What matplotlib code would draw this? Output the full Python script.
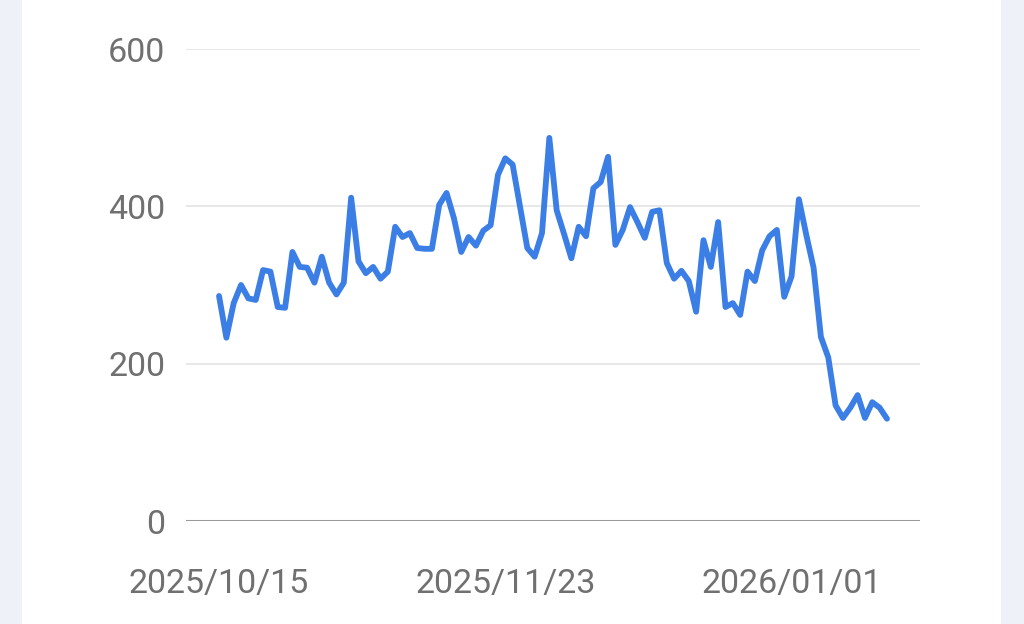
import matplotlib
matplotlib.use("Agg")
import matplotlib.pyplot as plt
from matplotlib.patches import Rectangle
import datetime as dt

start_date = "2025-10-15"
values = [286, 233, 277, 300, 283, 281, 319, 317, 272, 271,
          342, 323, 322, 303, 336, 303, 288, 303, 411, 330,
          315, 323, 308, 317, 374, 361, 366, 347, 346, 346,
          402, 417, 385, 342, 361, 350, 369, 376, 440, 461,
          453, 400, 347, 336, 366, 487, 395, 365, 334, 374,
          362, 423, 431, 463, 351, 370, 399, 380, 360, 393,
          395, 328, 308, 318, 305, 266, 357, 323, 380, 272,
          277, 262, 317, 305, 344, 362, 370, 285, 311, 409,
          364, 322, 234, 208, 147, 131, 144, 160, 131, 151,
          144, 130]
tick_dates = ["2025-10-15", "2025-11-23", "2026-01-01"]
tick_labels = ["2025/10/15", "2025/11/23", "2026/01/01"]
y_ticks = [0, 200, 400, 600]

plt.rcParams['font.family'] = ['Roboto', 'DejaVu Sans']

d0 = dt.datetime.strptime(start_date, "%Y-%m-%d")
dates = [d0 + dt.timedelta(days=i) for i in range(len(values))]

fig = plt.figure(figsize=(10.24, 6.24), dpi=100)
fig.patch.set_facecolor("white")
fig.patches.append(Rectangle((0, 0), 22 / 1024, 1, transform=fig.transFigure,
                             facecolor="#eef2f8", edgecolor="none", zorder=0))
fig.patches.append(Rectangle((1001 / 1024, 0), 23 / 1024, 1, transform=fig.transFigure,
                             facecolor="#eef2f8", edgecolor="none", zorder=0))

ax = fig.add_axes([186 / 1024, 103 / 624, 734 / 1024, 472 / 624])
ax.set_facecolor("white")

for yv in y_ticks[1:]:
    ax.axhline(yv, color="#e8e8e8", lw=1.4, zorder=1)
ax.axhline(0, color="#9a9a9a", lw=2.2, zorder=2)

ax.plot(dates, values, color="#3b7fe6", lw=4.2, solid_joinstyle="round",
        solid_capstyle="round", zorder=3)

ax.set_ylim(0, 600)
ax.set_xlim(dates[0] - dt.timedelta(days=4.5), dates[-1] + dt.timedelta(days=4.5))
ax.set_yticks(y_ticks)
ax.set_yticklabels([str(v) for v in y_ticks])
ax.set_xticks([dt.datetime.strptime(t, "%Y-%m-%d") for t in tick_dates])
ax.set_xticklabels(tick_labels)
ax.tick_params(axis="both", length=0, labelsize=24.5, labelcolor="#707070")
ax.tick_params(axis="y", pad=15)
ax.tick_params(axis="x", pad=34)
for s in ax.spines.values():
    s.set_visible(False)

fig.savefig("out.png", dpi=100, facecolor="white")
